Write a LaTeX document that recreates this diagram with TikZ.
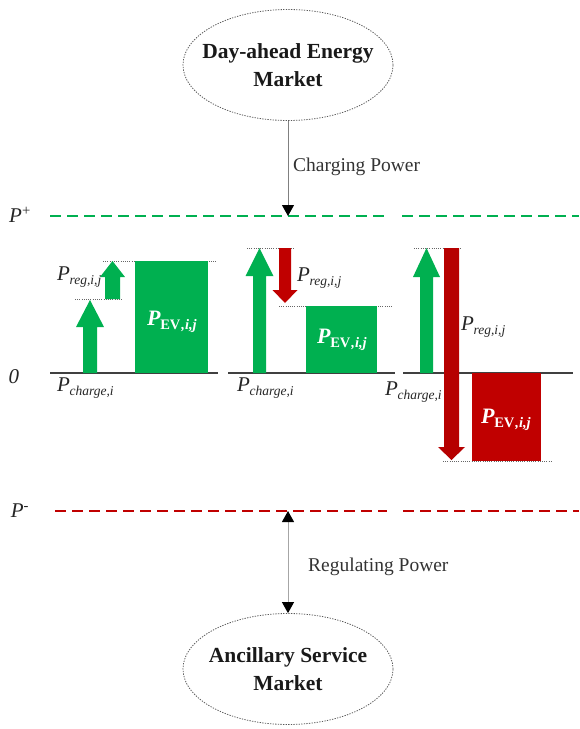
\documentclass[tikz,border=0pt]{standalone}
\usepackage{fontspec}
\setmainfont{Liberation Serif}
\usetikzlibrary{shapes.geometric,arrows.meta}
\definecolor{evgreen}{HTML}{00B050}
\definecolor{evred}{HTML}{C00000}
\newcommand{\blockarrow}[7]{%
  \fill[#1] ({#2-#6},#3) -- ({#2-#6},#4) -- ({#2-#7},#4) -- (#2,#5) -- ({#2+#7},#4) -- ({#2+#6},#4) -- ({#2+#6},#3) -- cycle;}
\newcommand{\Psub}[1]{\textit{P}\kern-0.5pt\raisebox{-4.5pt}{\fontsize{13.5}{13.5}\selectfont\textit{#1}}}
\newcommand{\PEVlab}{\textbf{\textit{P}}\kern-0.5pt\raisebox{-4.5pt}{\fontsize{14.5}{14.5}\selectfont\textbf{EV\kern1pt\textit{,i,j}}}}
\begin{document}
\begin{tikzpicture}[x=1pt,y=-1pt,
  market/.style={ellipse, draw=gray!70!black, dash pattern=on 1.3pt off 1.3pt, line width=0.8pt,
    minimum width=210pt, minimum height=111pt, inner sep=0pt},
  mtext/.style={align=center, inner sep=0pt, text=black!90, font=\fontsize{21.5}{28}\selectfont\bfseries},
  lab/.style={font=\fontsize{19.5}{21}\selectfont, text=black!80, inner sep=0pt},
  plab/.style={font=\fontsize{21}{23}\selectfont, text=black!85, inner sep=0pt},
  evlab/.style={font=\fontsize{22}{24}\selectfont, text=white, inner sep=0pt},
  conn/.style={draw=gray, line width=1pt, -{Triangle[width=12pt,length=11pt,black]}},
  conn2/.style={draw=gray!70, line width=1pt, {Triangle[width=12pt,length=11pt,black]}-{Triangle[width=12pt,length=11pt,black]}},
  gdash/.style={draw=evgreen, line width=2.6pt, dash pattern=on 11pt off 6pt},
  rdash/.style={draw=evred, line width=2.6pt, dash pattern=on 11pt off 6pt},
  dotl/.style={draw=black!60, line width=0.9pt, dash pattern=on 1pt off 1.2pt},
  base/.style={draw=black!75, line width=1.2pt}]
\useasboundingbox (0,0) rectangle (579,729);

% markets
\node[market] (dam) at (288,65) {};
\node[mtext] (damt) at (dam.center) {Day-ahead Energy\\Market};
\node[market] (asm) at (288,669) {};
\node[mtext] (asmt) at (asm.center) {Ancillary Service\\Market};

% limit lines
\draw[gdash] (50,216) -- (386,216);
\draw[gdash] (402,216) -- (579,216);
\draw[rdash] (55,511) -- (387,511);
\draw[rdash] (403,511) -- (579,511);
\coordinate (gtop) at (288,216);
\coordinate (rbot) at (288,511);

% connectors
\draw[conn] (dam.south) -- (gtop);
\draw[conn2] (rbot) -- (asm.north);
\node[lab, anchor=west] (cp) at (293,167) {Charging Power};
\node[lab, anchor=west] (rp) at (308,567) {Regulating Power};

% axis labels
\node[plab] (pplus) at (20,215) {\textit{P}\textsuperscript{+}};
\node[plab] (pminus) at (20,511) {\textit{P}\textsuperscript{-}};
\node[plab] (zero) at (14,377) {\textit{0}};

% baselines
\draw[base] (50,373) -- (218,373);
\draw[base] (228,373) -- (395,373);
\draw[base] (403,373) -- (573,373);

% panel 1
\draw[dotl] (75,299) -- (123,299);
\draw[dotl] (103,261) -- (217,261);
\blockarrow{evgreen}{90}{373}{327}{300}{7}{14}
\blockarrow{evgreen}{112.5}{299}{277}{261}{7.5}{12.5}
\fill[evgreen] (135,261) rectangle (208,373);
\node[plab, anchor=west] (preg1) at (57,277) {\Psub{reg,i,j}};
\node[plab, anchor=west] (pch1) at (57,388) {\Psub{charge,i}};
\node[evlab] (pev1) at (172,322) {\PEVlab};

% panel 2
\draw[dotl] (247,248) -- (295,248);
\draw[dotl] (279,306) -- (393,306);
\blockarrow{evgreen}{259.5}{373}{276}{248}{6.5}{14}
\blockarrow{evred}{285}{248}{290}{303}{6}{12.5}
\fill[evgreen] (306,306) rectangle (377,373);
\node[plab, anchor=west] (preg2) at (297,278) {\Psub{reg,i,j}};
\node[plab, anchor=west] (pch2) at (237,388) {\Psub{charge,i}};
\node[evlab] (pev2) at (342,340) {\PEVlab};

% panel 3
\draw[dotl] (414,248) -- (462,248);
\draw[dotl] (443,461) -- (552,461);
\blockarrow{evgreen}{426.5}{373}{277}{248}{6.5}{13.5}
\node[plab, anchor=west] (pch3) at (385,392) {\Psub{charge,i}};
\blockarrow{evred!95!black}{451.5}{248}{447}{460}{7.5}{13.5}
\fill[evred] (472,373) rectangle (541,461);
\node[plab, anchor=west] (preg3) at (461,327) {\Psub{reg,i,j}};
\node[evlab] (pev3) at (506,420) {\PEVlab};
\end{tikzpicture}
\end{document}
